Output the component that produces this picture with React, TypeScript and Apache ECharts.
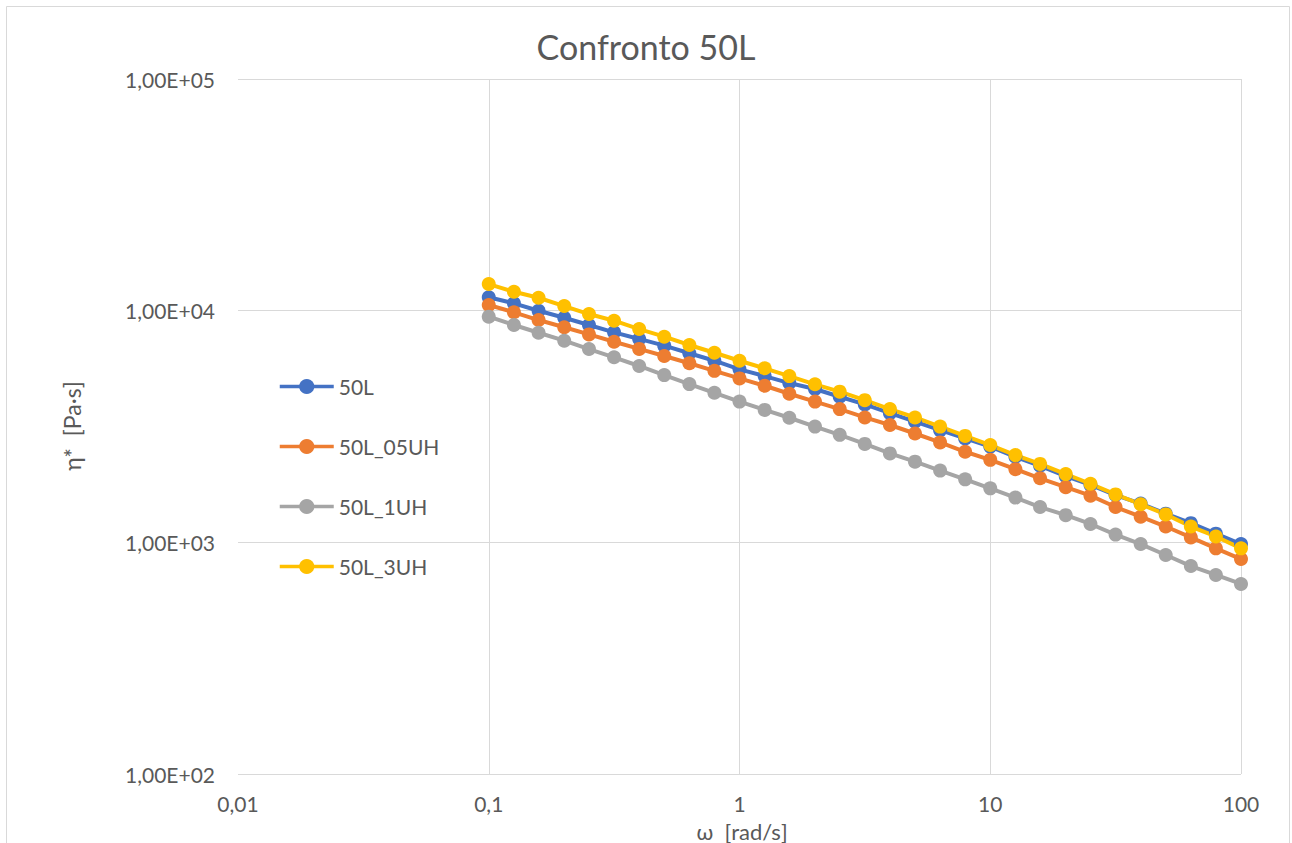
import React, { useEffect, useRef } from "react";
import * as echarts from "echarts";

const omega = [0.1, 0.126, 0.158, 0.2, 0.251, 0.316, 0.398, 0.501, 0.631, 0.794, 1, 1.26, 1.58, 2, 2.51, 3.16, 3.98, 5.01, 6.31, 7.94, 10, 12.6, 15.8, 20, 25.1, 31.6, 39.8, 50.1, 63.1, 79.4, 100];

const eta50L = [11420, 10760, 9990, 9320, 8670, 8060, 7550, 7060, 6550, 6080, 5580, 5220, 4870, 4590, 4250, 3940, 3610, 3320, 3050, 2810, 2590, 2340, 2140, 1930, 1770, 1600, 1470, 1330, 1210, 1090, 983];
const eta05UH = [10580, 9840, 9110, 8480, 7900, 7340, 6840, 6370, 5930, 5500, 5100, 4740, 4380, 4050, 3760, 3460, 3210, 2950, 2700, 2460, 2270, 2070, 1890, 1730, 1590, 1420, 1290, 1170, 1050, 942, 847];
const eta1UH = [9420, 8670, 8030, 7420, 6830, 6290, 5770, 5270, 4820, 4420, 4050, 3730, 3450, 3160, 2910, 2660, 2420, 2230, 2040, 1870, 1710, 1560, 1420, 1310, 1200, 1080, 983, 882, 790, 723, 661];
const eta3UH = [13030, 12070, 11370, 10470, 9670, 9050, 8330, 7720, 7110, 6580, 6080, 5640, 5220, 4810, 4470, 4110, 3760, 3460, 3160, 2880, 2630, 2380, 2180, 1970, 1790, 1610, 1460, 1320, 1170, 1060, 942];

const seriesNames = ["50L", "50L_05UH", "50L_1UH", "50L_3UH"];
const seriesColors = ["#4472C4", "#ED7D31", "#A5A5A5", "#FFC000"];
const seriesValues = [eta50L, eta05UH, eta1UH, eta3UH];

const xTickLabels = ["0,01", "0,1", "1", "10", "100"]; // exponents -2..2
const yTickLabels = ["1,00E+02", "1,00E+03", "1,00E+04", "1,00E+05"]; // exponents 2..5

const FONT = "Lato";
const TEXT = "#595959";
const GRID = "#D9D9D9";

export default function App() {
  const ref = useRef<HTMLDivElement>(null);
  useEffect(() => {
    const chart = echarts.init(ref.current!, null, { renderer: "svg" });
    chart.setOption({
      animation: false,
      backgroundColor: "#ffffff",
      textStyle: { fontFamily: FONT },
      title: {
        text: "Confronto 50L",
        left: "center",
        top: 29,
        padding: 0,
        textStyle: { fontFamily: FONT, fontSize: 34, fontWeight: "normal", color: TEXT },
      },
      graphic: [
        {
          type: "rect",
          shape: { x: 6.5, y: 6.5, width: 1283, height: 860 },
          style: { fill: "none", stroke: GRID, lineWidth: 1 },
          silent: true,
        },
        {
          type: "text",
          x: 72,
          y: 426,
          rotation: Math.PI / 2,
          style: {
            text: "η*  [Pa·s]",
            fontFamily: FONT,
            fontSize: 23,
            fill: TEXT,
            textAlign: "center",
            textVerticalAlign: "middle",
          },
        },
        {
          type: "text",
          x: 742,
          y: 831,
          style: {
            text: "ω  [rad/s]",
            fontFamily: FONT,
            fontSize: 22,
            fill: TEXT,
            textAlign: "center",
            textVerticalAlign: "middle",
          },
        },
      ],
      legend: {
        orient: "vertical",
        left: 278,
        top: 376,
        padding: 0,
        itemWidth: 54,
        itemHeight: 19,
        itemGap: 39,
        data: seriesNames,
        lineStyle: { width: 3.5 },
        textStyle: { fontFamily: FONT, fontSize: 21, lineHeight: 19, color: TEXT },
      },
      grid: { left: 238, right: 51, top: 79, bottom: 69, outerBoundsMode: "none" },
      xAxis: {
        type: "log",
        logBase: 10,
        min: 0.01,
        max: 100,
        axisLine: { show: false },
        axisTick: { show: false },
        splitLine: { show: true, showMinLine: false, lineStyle: { color: GRID, width: 1 } },
        axisLabel: {
          margin: 19,
          fontFamily: FONT,
          fontSize: 21,
          lineHeight: 21,
          color: TEXT,
          formatter: (v: number) => xTickLabels[Math.round(Math.log10(v)) + 2] ?? String(v),
        },
      },
      yAxis: {
        type: "log",
        logBase: 10,
        min: 100,
        max: 100000,
        axisLine: { show: false },
        axisTick: { show: false },
        splitLine: { show: true, lineStyle: { color: GRID, width: 1 } },
        axisLabel: {
          margin: 23,
          fontFamily: FONT,
          fontSize: 21,
          color: TEXT,
          formatter: (v: number) => yTickLabels[Math.round(Math.log10(v)) - 2] ?? String(v),
        },
      },
      series: seriesNames.map((name, i) => ({
        name,
        type: "line",
        data: omega.map((x, j) => [x, seriesValues[i][j]]),
        symbol: "circle",
        symbolSize: 14,
        showAllSymbol: true,
        lineStyle: { color: seriesColors[i], width: 4 },
        itemStyle: { color: seriesColors[i] },
        emphasis: { disabled: true },
      })),
    });
    return () => chart.dispose();
  }, []);
  return (
    <div
      ref={ref}
      style={{ position: "absolute", left: 0, top: 0, width: 1292, height: 843, background: "#fff" }}
    />
  );
}
